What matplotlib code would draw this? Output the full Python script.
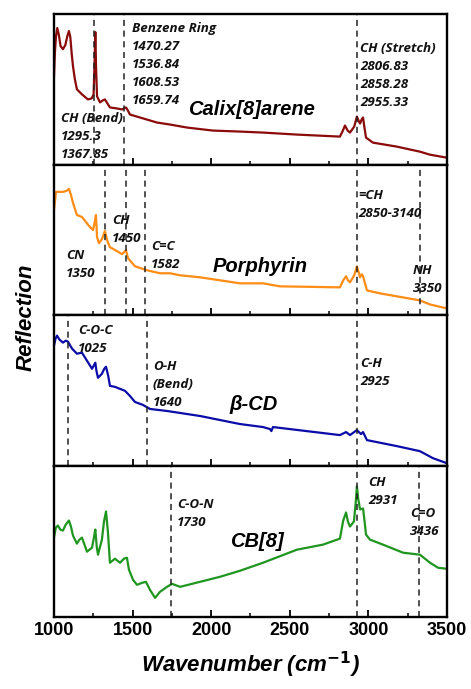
"""
FTIR reflection spectra of the four host molecules, stacked on a shared
wavenumber axis with the assigned bands marked.
"""

import matplotlib.pyplot as plt
from matplotlib.ticker import MultipleLocator

# ---------- spectra (wavenumber in cm-1, reflection in a.u.) ----------
calix_wn = [1000, 1006, 1013, 1021, 1030, 1042, 1057, 1072, 1085, 1095, 1104,
            1113, 1121, 1133, 1146, 1178, 1216, 1240, 1252, 1258, 1263, 1268,
            1274, 1293, 1310, 1324, 1340, 1356, 1401, 1433, 1458, 1470, 1483,
            1547, 1655, 1738, 1846, 2011, 2183, 2330, 2546, 2819, 2838, 2851,
            2868, 2883, 2910, 2927, 2940, 2947, 2957, 2966, 2975, 2985, 3029,
            3182, 3328, 3392, 3500]
calix_r = [88, 112, 128, 136, 130, 118, 115, 119, 128, 133, 127,
           110, 98, 85, 75, 70, 65, 66, 70, 100, 132, 95,
           68, 62, 64, 65, 61, 57, 56, 55, 57, 54, 50,
           47, 42, 40, 37, 34, 33, 32, 30, 28, 34, 39,
           34, 32, 38, 48, 43, 41, 45, 47, 37, 27, 22,
           18, 13, 10, 7]

porph_wn = [1000, 1013, 1035, 1057, 1080, 1095, 1108, 1121, 1146, 1178, 1229,
            1248, 1258, 1267, 1274, 1286, 1305, 1324, 1340, 1356, 1401, 1433,
            1458, 1471, 1515, 1592, 1674, 1738, 1802, 1929, 2183, 2330, 2438,
            2819, 2840, 2858, 2870, 2883, 2910, 2927, 2940, 2947, 2958, 2966,
            2991, 3074, 3220, 3328, 3392, 3500]
porph_r = [105, 123, 123, 123, 124, 126, 120, 112, 100, 98, 88,
           85, 92, 100, 78, 72, 76, 84, 74, 68, 64, 61,
           65, 57, 49, 45, 42, 42, 40, 38, 32, 32, 29,
           28, 35, 39, 35, 33, 40, 49, 42, 38, 41, 39,
           25, 22, 18, 15, 11, 7]

bcd_wn = [1000, 1010, 1019, 1035, 1057, 1075, 1089, 1100, 1115, 1146, 1178,
          1210, 1242, 1256, 1263, 1270, 1280, 1305, 1320, 1331, 1345, 1356,
          1388, 1452, 1483, 1515, 1566, 1611, 1719, 1929, 2183, 2330, 2374,
          2383, 2393, 2819, 2858, 2883, 2927, 2953, 2966, 2991, 3182, 3328,
          3411, 3500]
bcd_r = [120, 127, 130, 126, 123, 125, 124, 121, 117, 112, 113,
         105, 97, 101, 103, 95, 88, 92, 97, 99, 90, 80,
         79, 75, 70, 64, 61, 57, 55, 50, 42, 39, 37,
         35, 39, 31, 34, 31, 36, 32, 34, 26, 20, 15,
         8, 3]

cb8_wn = [1000, 1012, 1025, 1040, 1057, 1075, 1095, 1108, 1121, 1146, 1162,
          1178, 1194, 1210, 1242, 1255, 1263, 1272, 1280, 1305, 1318, 1331,
          1343, 1356, 1388, 1420, 1445, 1464, 1477, 1503, 1528, 1560, 1585,
          1611, 1643, 1674, 1719, 1751, 1802, 1929, 2056, 2183, 2330, 2546,
          2711, 2819, 2840, 2858, 2870, 2883, 2908, 2920, 2927, 2935, 2947,
          2966, 2976, 2985, 3010, 3093, 3220, 3328, 3392, 3443, 3500]
cb8_r = [79, 89, 91, 87, 86, 92, 96, 90, 81, 73, 77,
         79, 72, 65, 69, 80, 87, 70, 62, 77, 95, 105,
         85, 54, 58, 54, 58, 59, 47, 37, 32, 34, 35,
         27, 19, 25, 30, 33, 30, 35, 40, 46, 54, 67,
         72, 78, 96, 104, 95, 90, 95, 115, 130, 118, 107,
         108, 95, 82, 77, 72, 64, 62, 54, 49, 48]

# band positions marked with dashed lines in each panel
calix_bands = [1255, 1446, 2930]
porph_bands = [1325, 1458, 1580, 2930, 3330]
bcd_bands = [1090, 1590, 2930]
cb8_bands = [1745, 2930, 3325]

names = ["Calix[8]arene", "Porphyrin", "β-CD", "CB[8]"]
colors = ["#8b0a0a", "#ff8c14", "#0c0ca8", "#1f961f"]

NOTE = dict(family=["Open Sans", "DejaVu Sans"], fontsize=9.6,
            fontweight="bold", fontstyle="italic", va="center", ha="left",
            color="#111111")
TITLE = dict(family="Liberation Sans", fontsize=14.5, fontweight="bold",
             fontstyle="italic", va="center", ha="left")


def note(ax, x, y, lines, step=18):
    for i, line in enumerate(lines):
        ax.text(x, y - i * step, line, **NOTE)


fig, axes = plt.subplots(4, 1, figsize=(4.71, 6.89), dpi=100, sharex=True)
fig.subplots_adjust(left=0.1146, right=0.949, top=0.9797, bottom=0.1045,
                    hspace=0)

data = [(calix_wn, calix_r, calix_bands), (porph_wn, porph_r, porph_bands),
        (bcd_wn, bcd_r, bcd_bands), (cb8_wn, cb8_r, cb8_bands)]

for ax, (wn, r, bands), color in zip(axes, data, colors):
    ax.plot(wn, r, color=color, lw=1.6)
    for b in bands:
        ax.axvline(b, color="#222222", lw=1.1, ls=(0, (4, 3)))
    ax.set_xlim(1000, 3500)
    ax.set_ylim(0, 150)
    ax.set_yticks([])
    ax.xaxis.set_major_locator(MultipleLocator(500))
    ax.xaxis.set_minor_locator(MultipleLocator(250))
    ax.tick_params(axis="x", which="major", direction="in", length=5,
                   width=1.3, top=False)
    ax.tick_params(axis="x", which="minor", direction="in", length=3,
                   width=1.1, top=False)
    for s in ax.spines.values():
        s.set_linewidth(1.7)

# Calix[8]arene
ax = axes[0]
note(ax, 1496, 136, ["Benzene Ring", "1470.27", "1536.84", "1608.53", "1659.74"])
note(ax, 1045, 46, ["CH (Bend)", "1295.3", "1367.85"])
note(ax, 2947, 116, ["CH (Stretch)", "2806.83", "2858.28", "2955.33"])
ax.text(1853, 55, names[0], **TITLE)

# Porphyrin
ax = axes[1]
note(ax, 1076, 60, ["CN", "1350"])
note(ax, 1369, 95, ["CH", "1450"])
note(ax, 1617, 69, ["C=C", "1582"])
note(ax, 2934, 119, ["=CH", "2850-3140"])
note(ax, 3284, 45, ["NH", "3350"])
ax.text(2011, 49, names[1], **TITLE)

# beta-cyclodextrin
ax = axes[2]
note(ax, 1153, 135, ["C-O-C", "1025"])
note(ax, 1630, 99, ["O-H", "(Bend)", "1640"])
note(ax, 2947, 102, ["C-H", "2925"])
ax.text(2113, 61, names[2], **TITLE)

# CB[8]
ax = axes[3]
note(ax, 1782, 112, ["C-O-N", "1730"])
note(ax, 2998, 134, ["CH", "2931"])
note(ax, 3265, 103, ["C=O", "3436"])
ax.text(2120, 75, names[3], **TITLE)

for lab in axes[3].get_xticklabels():
    lab.set_fontfamily("Liberation Sans")
    lab.set_fontweight("bold")
    lab.set_fontsize(13)

axes[3].set_xlabel("Wavenumber (cm$^{\\mathbf{-1}}$)", family="Liberation Sans",
                   fontsize=16, fontweight="bold", fontstyle="italic",
                   labelpad=8)
fig.text(0.055, 0.54, "Reflection", rotation=90, family="Liberation Sans",
         fontsize=16, fontweight="bold", fontstyle="italic",
         ha="center", va="center")

plt.savefig("out.png", dpi=100)
plt.close()
